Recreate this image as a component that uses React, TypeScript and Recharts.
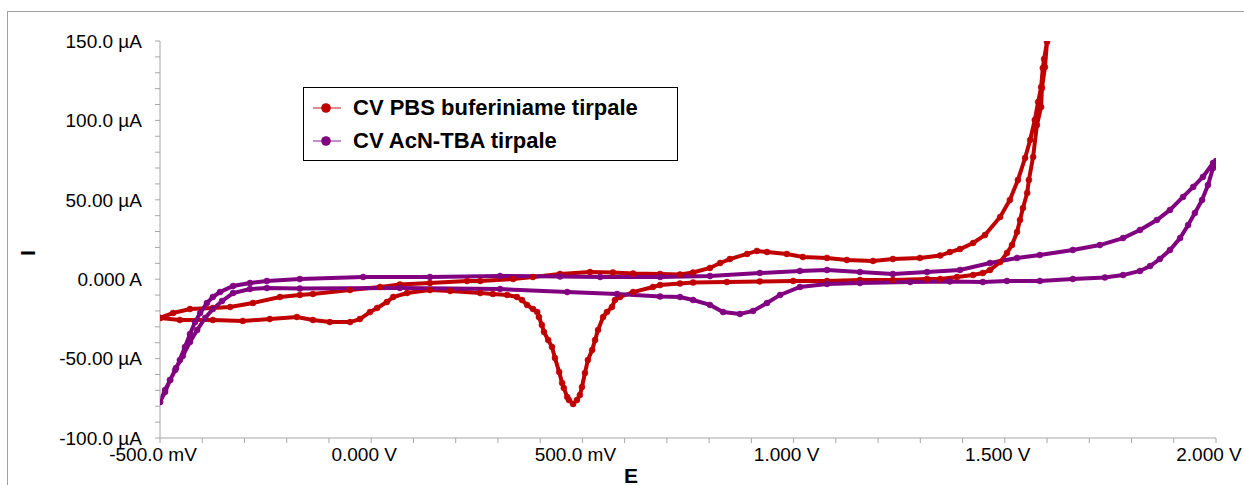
import React from 'react';
import { LineChart, Line, XAxis, YAxis, Legend, Label } from 'recharts';

// ---- Data (E in V, I in µA) ----
const pbsE = [
  -0.5, -0.469, -0.429, -0.375, -0.334, -0.28, -0.216, -0.169, -0.138, -0.05, 0.021, 0.068, 0.139, 0.227, 0.258,
  0.336, 0.383, 0.447, 0.518, 0.572, 0.62, 0.684, 0.731, 0.762, 0.802, 0.826, 0.849, 0.89, 0.913, 0.937, 0.984,
  1.022, 1.079, 1.126, 1.188, 1.235, 1.299, 1.347, 1.37, 1.394, 1.425, 1.453, 1.489, 1.512, 1.531, 1.548, 1.56,
  1.571, 1.579, 1.586, 1.59, 1.593, 1.6,
  1.595, 1.588, 1.586, 1.576, 1.567, 1.557, 1.553, 1.543, 1.536, 1.529, 1.517, 1.505, 1.489, 1.465, 1.448, 1.425,
  1.387, 1.347, 1.316, 1.235, 1.157, 1.079, 0.999, 0.92, 0.842, 0.762, 0.731, 0.684, 0.667, 0.62, 0.589, 0.577,
  0.57, 0.558, 0.549, 0.537, 0.53, 0.523, 0.513, 0.506, 0.499, 0.494, 0.487, 0.478, 0.468, 0.464, 0.456, 0.452,
  0.445, 0.435, 0.428, 0.419, 0.409, 0.404, 0.397, 0.393, 0.383, 0.369, 0.357, 0.345, 0.322, 0.288, 0.258, 0.187,
  0.139, 0.085, 0.052, 0.037, 0.014, -0.003, -0.027, -0.05, -0.098, -0.138, -0.176, -0.24, -0.304, -0.375, -0.453, -0.5,
];
const pbsI = [
  -24.4, -21.3, -18.8, -18.1, -17.5, -15.0, -11.2, -9.9, -9.3, -6.8, -4.9, -3.3, -2.4, -1.1, -1.1,
  0.1, 1.4, 3.3, 4.5, 4.2, 3.6, 3.3, 3.0, 4.2, 7.1, 10.2, 12.7, 15.9, 17.8, 17.1, 15.9,
  14.0, 13.4, 12.1, 11.5, 12.7, 13.4, 14.9, 17.1, 19.0, 22.8, 27.8, 39.2, 49.9, 62.5, 76.3, 87.7,
  100.3, 111.6, 121.0, 133.0, 138.7, 149.4,
  133.6, 120.4, 108.4, 97.1, 77.0, 62.5, 54.3, 44.8, 37.3, 29.7, 21.5, 16.5, 10.8, 5.8, 3.9, 2.6,
  1.4, 0.1, 0.1, -0.5, -0.5, -1.1, -1.1, -1.4, -1.8, -2.1, -2.7, -3.7, -4.9, -8.1, -11.2, -13.1,
  -17.5, -20.7, -23.8, -32.0, -38.3, -44.6, -50.9, -59.1, -67.9, -72.9, -76.1, -78.6, -76.1, -74.2, -68.5, -65.4,
  -58.4, -49.6, -42.7, -38.3, -33.2, -28.8, -23.8, -20.7, -18.8, -16.2, -13.1, -11.2, -9.9, -9.3, -8.7, -7.4,
  -6.8, -8.7, -11.2, -14.4, -18.1, -20.7, -25.1, -27.0, -27.0, -25.7, -23.8, -25.1, -26.3, -25.7, -25.7, -24.4,
];

const acnE = [
  -0.5, -0.488, -0.476, -0.464, -0.453, -0.441, -0.429, -0.417, -0.405, -0.389, -0.375, -0.358, -0.327, -0.287,
  -0.247, -0.169, -0.019, 0.139, 0.305, 0.447, 0.542, 0.684, 0.802, 0.92, 1.015, 1.079, 1.157, 1.235, 1.316, 1.394,
  1.465, 1.529, 1.583, 1.661, 1.725, 1.78, 1.82, 1.86, 1.891, 1.922, 1.946, 1.969, 1.993, 2.0,
  1.993, 1.981, 1.967, 1.95, 1.934, 1.915, 1.891, 1.867, 1.844, 1.82, 1.78, 1.737, 1.661, 1.583, 1.505, 1.448,
  1.37, 1.276, 1.157, 1.079, 1.015, 0.968, 0.937, 0.904, 0.873, 0.833, 0.802, 0.762, 0.731, 0.684, 0.582, 0.464,
  0.305, 0.068, -0.169, -0.247, -0.287, -0.327, -0.353, -0.375, -0.393, -0.412, -0.429, -0.446, -0.462, -0.476,
  -0.488, -0.5,
];
const acnI = [
  -77.3, -71.0, -63.5, -57.2, -50.9, -42.7, -34.5, -27.0, -21.3, -15.0, -11.2, -8.1, -4.3, -2.4,
  -1.1, 0.1, 1.4, 1.4, 2.0, 1.7, 1.4, 1.4, 2.0, 3.9, 5.2, 5.8, 4.5, 3.3, 4.5, 5.8,
  10.2, 13.4, 15.2, 18.4, 21.5, 25.9, 31.0, 37.3, 43.6, 51.8, 58.1, 64.4, 73.2, 74.4,
  70.0, 59.3, 49.9, 41.7, 34.1, 25.9, 18.4, 12.7, 8.3, 5.2, 2.6, 1.1, 0.1, -1.1, -1.1, -1.8,
  -1.4, -1.8, -2.4, -3.0, -4.9, -9.9, -15.0, -20.0, -21.9, -20.7, -16.2, -13.1, -11.2, -10.9, -9.3, -8.1,
  -6.2, -5.5, -5.9, -5.5, -6.2, -8.7, -13.7, -18.8, -24.4, -32.0, -39.5, -48.4, -55.9, -63.5,
  -69.8, -77.3,
];

const seriesNames = ['CV PBS buferiniame tirpale', 'CV AcN-TBA tirpale'];
const seriesColors = ['#C00000', '#800080'];

const xTicks = [
  -0.5, -0.4, -0.3, -0.2, -0.1, 0, 0.1, 0.2, 0.3, 0.4, 0.5, 0.6, 0.7, 0.8, 0.9, 1.0,
  1.1, 1.2, 1.3, 1.4, 1.5, 1.6, 1.7, 1.8, 1.9, 2.0,
];
const xMajor = [-0.5, 0, 0.5, 1.0, 1.5, 2.0];
const xMajorLabels = ['-500.0 mV', '0.000 V', '500.0 mV', '1.000 V', '1.500 V', '2.000 V'];

const yTicks = [
  -100, -90, -80, -70, -60, -50, -40, -30, -20, -10, 0, 10, 20, 30, 40, 50, 60, 70, 80, 90,
  100, 110, 120, 130, 140, 150,
];
const yMajor = [-100, -50, 0, 50, 100, 150];
const yMajorLabels = ['-100.0 µA', '-50.00 µA', '0.000 A', '50.00 µA', '100.0 µA', '150.0 µA'];

const pbsData = pbsE.map((e, i) => ({ E: e, I: pbsI[i] }));
const acnData = acnE.map((e, i) => ({ E: e, I: acnI[i] }));

const FONT = '"Liberation Sans", Arial, sans-serif';
const AXIS_GRAY = '#A6A6A6';

const findLabel = (v: number, majors: number[], labels: string[]) => {
  const idx = majors.findIndex((m) => Math.abs(m - v) < 1e-6);
  return idx >= 0 ? labels[idx] : null;
};

const XTick = (props: any) => {
  const { x, y, payload } = props;
  const lbl = findLabel(payload.value, xMajor, xMajorLabels);
  if (!lbl) return <g />;
  return (
    <text x={x - 7} y={y} dy="0.71em" textAnchor="middle" fontSize={19} fontFamily={FONT} fill="#000">
      {lbl}
    </text>
  );
};

const YTick = (props: any) => {
  const { x, y, payload } = props;
  const lbl = findLabel(payload.value, yMajor, yMajorLabels);
  if (!lbl) return <g />;
  return (
    <text x={x} y={y} dy="0.355em" textAnchor="end" fontSize={19} fontFamily={FONT} fill="#000">
      {lbl}
    </text>
  );
};

const LegendBox = () => (
  <div
    style={{
      width: 375,
      height: 74,
      boxSizing: 'border-box',
      border: '1.5px solid #000',
      background: '#fff',
      position: 'relative',
      fontFamily: FONT,
    }}
  >
    {seriesNames.map((name, i) => (
      <div
        key={name}
        style={{ position: 'absolute', left: 0, top: i === 0 ? 20 - 15 : 53 - 15, height: 30, width: 370 }}
      >
        <svg width={40} height={30} style={{ position: 'absolute', left: 7, top: 0 }}>
          <line x1={2} y1={15} x2={30} y2={15} stroke={seriesColors[i]} strokeWidth={1.5} opacity={0.6} />
          <circle cx={15} cy={15} r={4.8} fill={seriesColors[i]} />
        </svg>
        <span
          style={{
            position: 'absolute',
            left: 49,
            top: 0,
            lineHeight: '30px',
            fontSize: 22,
            fontWeight: 'bold',
            color: '#000',
            whiteSpace: 'nowrap',
          }}
        >
          {name}
        </span>
      </div>
    ))}
  </div>
);

export default function App() {
  return (
    <div
      style={{
        position: 'absolute',
        left: 0,
        top: 0,
        width: 1244,
        height: 485,
        overflow: 'hidden',
        background: '#fff',
      }}
    >
      <div
        style={{
          position: 'absolute',
          left: 7,
          top: 11,
          width: 1300,
          height: 600,
          borderLeft: '1px solid #A0A0A0',
          borderTop: '1px solid #A0A0A0',
        }}
      />
      <div style={{ position: 'absolute', left: 0, top: 0 }}>
        <LineChart width={1244} height={485} margin={{ top: 41, right: 28, bottom: 0, left: 0 }}>
          <XAxis
            dataKey="E"
            type="number"
            domain={[-0.5, 2.0]}
            ticks={xTicks}
            interval={0}
            allowDataOverflow
            height={47}
            tickSize={5}
            tickMargin={5}
            stroke={AXIS_GRAY}
            tick={<XTick />}
          >
            <Label
              content={() => (
                <text
                  x={631}
                  y={475}
                  textAnchor="middle"
                  dominantBaseline="central"
                  fontSize={21}
                  fontWeight="bold"
                  fontFamily={FONT}
                  fill="#000"
                >
                  E
                </text>
              )}
            />
          </XAxis>
          <YAxis
            type="number"
            domain={[-100, 150]}
            ticks={yTicks}
            interval={0}
            allowDataOverflow
            width={160}
            tickSize={5}
            tickMargin={13}
            stroke={AXIS_GRAY}
            tick={<YTick />}
          >
            <Label
              content={() => (
                <text
                  x={27}
                  y={253}
                  transform="rotate(-90 27 253)"
                  textAnchor="middle"
                  dominantBaseline="central"
                  fontSize={21}
                  fontWeight="bold"
                  fontFamily={FONT}
                  fill="#000"
                >
                  I
                </text>
              )}
            />
          </YAxis>
          <Legend
            layout="vertical"
            align="center"
            verticalAlign="middle"
            content={() => <LegendBox />}
            wrapperStyle={{ left: 303, top: 87, width: 375, height: 74 }}
          />
          <Line
            data={pbsData}
            dataKey="I"
            name={seriesNames[0]}
            type="linear"
            stroke={seriesColors[0]}
            strokeWidth={4}
            dot={{ r: 3, fill: seriesColors[0], stroke: seriesColors[0], strokeWidth: 0.5 }}
            activeDot={false}
            isAnimationActive={false}
          />
          <Line
            data={acnData}
            dataKey="I"
            name={seriesNames[1]}
            type="linear"
            stroke={seriesColors[1]}
            strokeWidth={4}
            dot={{ r: 3, fill: seriesColors[1], stroke: seriesColors[1], strokeWidth: 0.5 }}
            activeDot={false}
            isAnimationActive={false}
          />
        </LineChart>
      </div>
    </div>
  );
}
